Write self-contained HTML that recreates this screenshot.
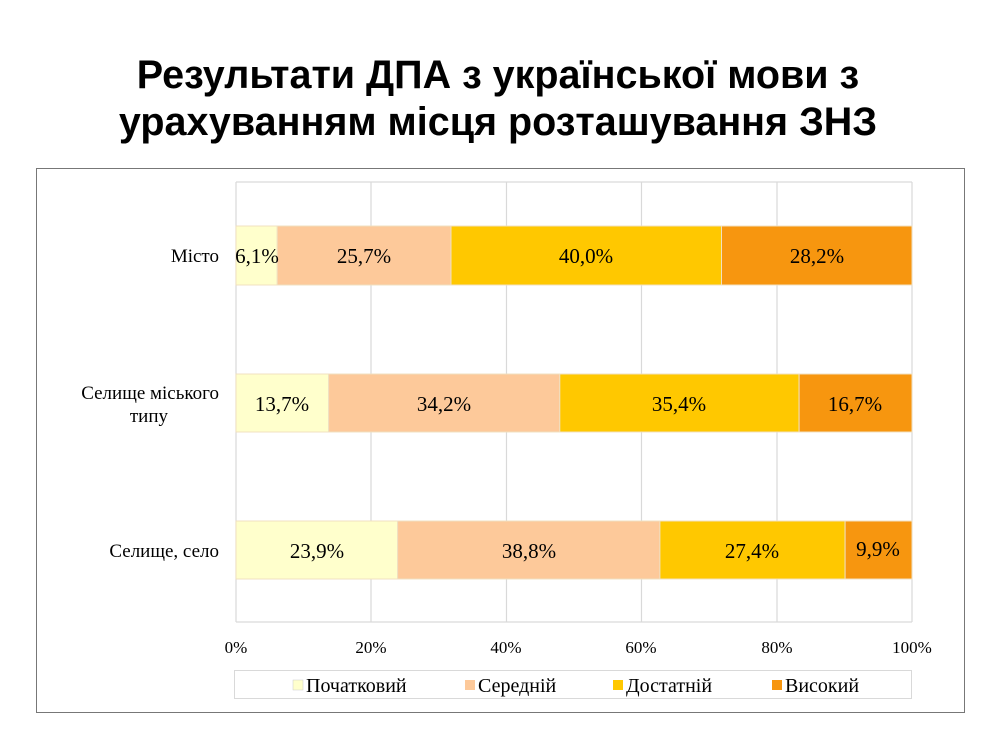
<!DOCTYPE html>
<html><head><meta charset="utf-8"><style>
body{margin:0;background:#fff;width:996px;height:742px;overflow:hidden}
svg{display:block}
</style></head><body>
<svg width="996" height="742" xmlns="http://www.w3.org/2000/svg">
<text x="498" y="88" text-anchor="middle" font-family="Liberation Sans, sans-serif" font-weight="bold" font-size="39.5">Результати ДПА з української мови з</text>
<text x="498" y="135" text-anchor="middle" font-family="Liberation Sans, sans-serif" font-weight="bold" font-size="39.5">урахуванням місця розташування ЗНЗ</text>
<rect x="36.5" y="168.5" width="928" height="544" fill="#fff" stroke="#777" stroke-width="1"/>
<g stroke="#d9d9d9" stroke-width="1.2">
<line x1="236" y1="182" x2="236" y2="622"/>
<line x1="371" y1="182" x2="371" y2="622"/>
<line x1="506.5" y1="182" x2="506.5" y2="622"/>
<line x1="641.5" y1="182" x2="641.5" y2="622"/>
<line x1="777" y1="182" x2="777" y2="622"/>
<line x1="912" y1="182" x2="912" y2="622"/>
<line x1="236" y1="182" x2="912" y2="182"/>
<line x1="236" y1="622" x2="912" y2="622"/>
</g>
<g stroke="#f0e0c0" stroke-width="1">
<rect x="236" y="226" width="41.2" height="59" fill="#FFFFCC"/>
<rect x="277.2" y="226" width="173.8" height="59" fill="#FDC99A"/>
<rect x="451" y="226" width="270.5" height="59" fill="#FFC800"/>
<rect x="721.5" y="226" width="190.5" height="59" fill="#F7960F"/>
<rect x="236" y="374" width="92.6" height="58" fill="#FFFFCC"/>
<rect x="328.6" y="374" width="231.2" height="58" fill="#FDC99A"/>
<rect x="559.8" y="374" width="239.3" height="58" fill="#FFC800"/>
<rect x="799.1" y="374" width="112.9" height="58" fill="#F7960F"/>
<rect x="236" y="521" width="161.6" height="58" fill="#FFFFCC"/>
<rect x="397.6" y="521" width="262.3" height="58" fill="#FDC99A"/>
<rect x="659.9" y="521" width="185.2" height="58" fill="#FFC800"/>
<rect x="845.1" y="521" width="66.9" height="58" fill="#F7960F"/>
</g>
<g font-family="Liberation Serif, serif" font-size="21" text-anchor="middle" fill="#000">
<text x="257" y="263">6,1%</text>
<text x="364" y="263">25,7%</text>
<text x="586" y="263">40,0%</text>
<text x="817" y="263">28,2%</text>
<text x="282" y="411">13,7%</text>
<text x="444" y="411">34,2%</text>
<text x="679" y="411">35,4%</text>
<text x="855" y="411">16,7%</text>
<text x="317" y="558">23,9%</text>
<text x="529" y="558">38,8%</text>
<text x="752" y="558">27,4%</text>
<text x="878" y="556">9,9%</text>
</g>
<g font-family="Liberation Serif, serif" font-size="19" text-anchor="end" fill="#000">
<text x="219" y="262">Місто</text>
<text x="219" y="399">Селище міського</text>
<text x="168" y="422">типу</text>
<text x="219" y="557">Селище, село</text>
</g>
<g font-family="Liberation Serif, serif" font-size="17" text-anchor="middle" fill="#000">
<text x="236" y="653">0%</text>
<text x="371" y="653">20%</text>
<text x="506" y="653">40%</text>
<text x="641" y="653">60%</text>
<text x="777" y="653">80%</text>
<text x="912" y="653">100%</text>
</g>
<rect x="234.5" y="670.5" width="677" height="28" fill="#fff" stroke="#d9d9d9"/>
<g font-family="Liberation Serif, serif" font-size="20" fill="#000">
<rect x="293" y="680" width="10" height="10" fill="#FFFFCC" stroke="#ccc" stroke-width="0.5"/>
<text x="306" y="692">Початковий</text>
<rect x="465" y="680" width="10" height="10" fill="#FDC99A"/>
<text x="478" y="692">Середній</text>
<rect x="613" y="680" width="10" height="10" fill="#FFC800"/>
<text x="626" y="692">Достатній</text>
<rect x="772" y="680" width="10" height="10" fill="#F7960F"/>
<text x="785" y="692">Високий</text>
</g>
</svg>
</body></html>
